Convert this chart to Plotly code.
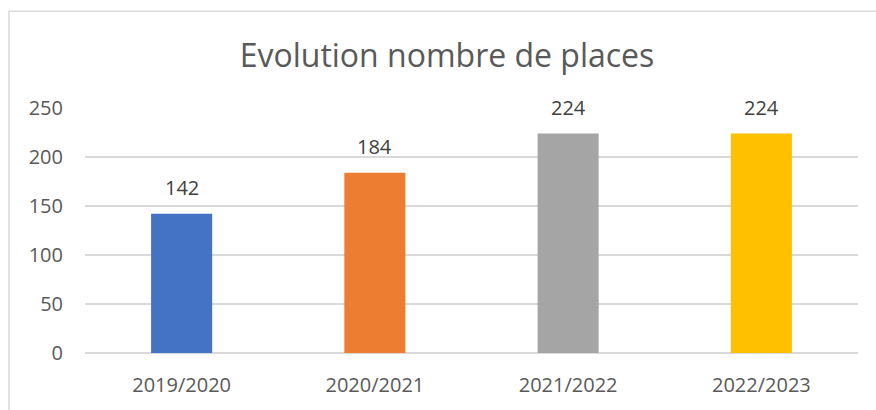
import plotly.graph_objects as go

categories = ["2019/2020", "2020/2021", "2021/2022", "2022/2023"]
places = [142, 184, 224, 224]
colors = ["#4472C4", "#ED7D31", "#A5A5A5", "#FFC000"]
y_ticks = [0, 50, 100, 150, 200, 250]

W, H = 876, 410
L, R, T, B = 85, 18, 108, 54
pw, ph = W - L - R, H - T - B

fig = go.Figure(go.Bar(
    x=categories, y=places, marker_color=colors, marker_line_width=0,
    hoverinfo="x+y",
))

for c, v in zip(categories, places):
    fig.add_annotation(x=c, y=v, text=str(v), showarrow=False, yanchor="middle",
                       yshift=26, font=dict(family="Open Sans", size=20, color="#404040"))

def px_x(p):
    return (p - L) / pw

def px_y(p):
    return (H - B - p) / ph

fig.update_layout(
    width=W, height=H,
    margin=dict(l=L, r=R, t=T, b=B),
    paper_bgcolor="white", plot_bgcolor="white",
    bargap=0.684,
    showlegend=False,
    title=dict(text="Evolution nombre de places", x=447 / W, xanchor="center",
               y=1 - 56 / H, yanchor="middle",
               font=dict(family="Open Sans", size=32, color="#595959")),
    font=dict(family="Open Sans", color="#595959"),
    xaxis=dict(showgrid=False, showline=False, zeroline=False, ticks="",
               tickfont=dict(size=20, color="#595959"), ticklabelstandoff=18),
    yaxis=dict(range=[0, 250], tickvals=y_ticks, showgrid=True, gridcolor="#D9D9D9",
               gridwidth=1.5, zeroline=True, zerolinecolor="#D9D9D9", zerolinewidth=1.5,
               showline=False, ticks="", tickfont=dict(size=20, color="#595959"),
               ticklabelstandoff=21),
    shapes=[dict(type="rect", xref="paper", yref="paper",
                 x0=px_x(9), x1=px_x(W + 20), y0=px_y(H + 20), y1=px_y(10),
                 line=dict(color="#D9D9D9", width=1.5), fillcolor="rgba(0,0,0,0)",
                 layer="below")],
)

fig.write_html("out.html", config={"displayModeBar": False},
               post_script="document.body.style.margin='0';")
